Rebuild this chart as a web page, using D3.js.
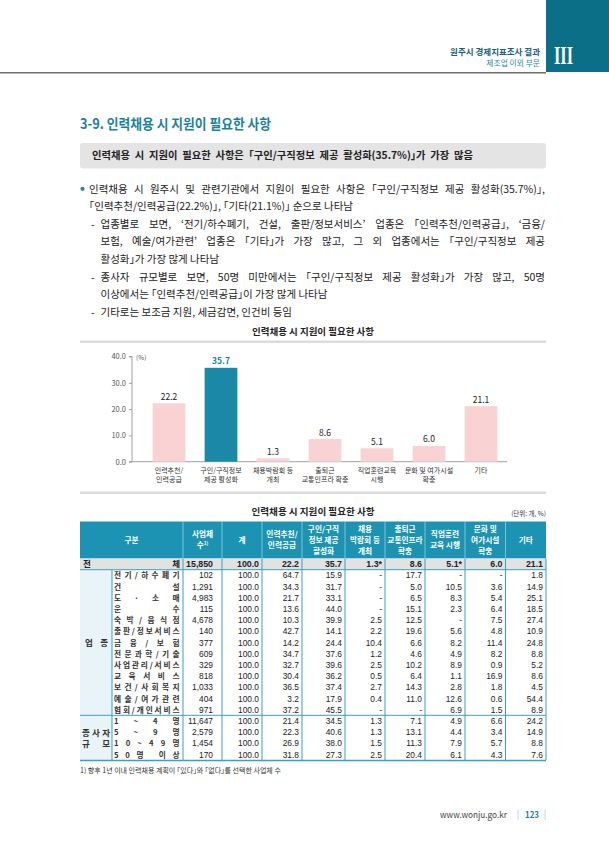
<!DOCTYPE html>
<html><head><meta charset="utf-8">
<script src="https://cdn.jsdelivr.net/npm/d3@7"></script>
<style>body{margin:0;background:#fff}svg{display:block}.halt{font-feature-settings:"halt" 1}</style>
</head><body>
<script>
// ---------- DATA ----------
const categories = ["인력추천/인력공급","구인/구직정보 제공 활성화","채용박람회 등 개최","출퇴근 교통인프라 확충","직업훈련교육 시행","문화 및 여가시설 확충","기타"];
const categoryLines = [["인력추천/","인력공급"],["구인/구직정보","제공 활성화"],["채용박람회 등","개최"],["출퇴근","교통인프라 확충"],["직업훈련교육","시행"],["문화 및 여가시설","확충"],["기타"]];
const values = [22.2, 35.7, 1.3, 8.6, 5.1, 6.0, 21.1];
const yTicks = [0, 10, 20, 30, 40];

const tableHeaders = [["구분"],["사업체","수"],["계"],["인력추천/","인력공급"],["구인/구직","정보 제공","활성화"],["채용","박람회 등","개최"],["출퇴근","교통인프라","확충"],["직업훈련","교육 시행"],["문화 및","여가시설","확충"],["기타"]];
const totalRow = ["15,850","100.0","22.2","35.7","1.3*","8.6","5.1*","6.0","21.1"];
const industryLabels = ["전기/하수폐기","건설","도·소매","운수","숙박/음식점","출판/정보서비스","금융/보험","전문과학/기술","사업관리/서비스","교육서비스","보건/사회복지","예술/여가관련","협회/개인서비스"];
const industryRows = [
 ["102","100.0","64.7","15.9","-","17.7","-","-","1.8"],
 ["1,291","100.0","34.3","31.7","-","5.0","10.5","3.6","14.9"],
 ["4,983","100.0","21.7","33.1","-","6.5","8.3","5.4","25.1"],
 ["115","100.0","13.6","44.0","-","15.1","2.3","6.4","18.5"],
 ["4,678","100.0","10.3","39.9","2.5","12.5","-","7.5","27.4"],
 ["140","100.0","42.7","14.1","2.2","19.6","5.6","4.8","10.9"],
 ["377","100.0","14.2","24.4","10.4","6.6","8.2","11.4","24.8"],
 ["609","100.0","34.7","37.6","1.2","4.6","4.9","8.2","8.8"],
 ["329","100.0","32.7","39.6","2.5","10.2","8.9","0.9","5.2"],
 ["818","100.0","30.4","36.2","0.5","6.4","1.1","16.9","8.6"],
 ["1,033","100.0","36.5","37.4","2.7","14.3","2.8","1.8","4.5"],
 ["404","100.0","3.2","17.9","0.4","11.0","12.6","0.6","54.4"],
 ["971","100.0","37.2","45.5","-","-","6.9","1.5","8.9"]
];
const sizeLabels = ["1~4명","5~9명","10~49명","50명 이상"];
const sizeRows = [
 ["11,647","100.0","21.4","34.5","1.3","7.1","4.9","6.6","24.2"],
 ["2,579","100.0","22.3","40.6","1.3","13.1","4.4","3.4","14.9"],
 ["1,454","100.0","26.9","38.0","1.5","11.3","7.9","5.7","8.8"],
 ["170","100.0","31.8","27.3","2.5","20.4","6.1","4.3","7.6"]
];

// ---------- HELPERS ----------
const F = "'Noto Sans CJK KR','Noto Sans',sans-serif";
const NUMF = "'Liberation Sans Narrow','Liberation Sans','Noto Sans',sans-serif";
const svg = d3.select("body").append("svg").attr("width",609).attr("height",861).style("font-family",F);

function justify(t, target){
  const w = t.node().getComputedTextLength();
  const n = (t.text().match(/ /g)||[]).length;
  if(n) t.attr("word-spacing",(target-w)/n);
}
function spreadSpacing(str, fs, weight, target){
  const tmp = svg.append("text").attr("font-size",fs).attr("font-weight",weight).text(str);
  const w = tmp.node().getComputedTextLength(); tmp.remove();
  const n = [...str].length;
  return n>1 ? (target-w)/(n-1) : 0;
}
function spreadLabel(parent, str, x0, yy, fs, weight, target){
  const ls = spreadSpacing(str, fs, weight, target);
  const chars = [...str];
  parent.append("tspan").attr("x",x0).attr("y",yy).attr("letter-spacing",ls).text(chars.slice(0,-1).join(""));
  parent.append("tspan").attr("letter-spacing",0).text(chars[chars.length-1]);
}

// ---------- PAGE HEADER ----------
svg.append("rect").attr("x",546).attr("y",0).attr("width",63).attr("height",72).attr("fill","#0b6f87");
svg.append("line").attr("x1",0).attr("x2",546).attr("y1",72.8).attr("y2",72.8).attr("stroke","#6e6e6e").attr("stroke-width",1.5);
svg.append("text").attr("text-anchor","end").attr("x",540).attr("y",55.3).attr("font-size",8.5).attr("font-weight","bold").attr("fill","#17627a").text("원주시 경제지표조사 결과");
svg.append("text").attr("text-anchor","end").attr("x",540).attr("y",65.6).attr("font-size",7.8).attr("fill","#2b8ba6").text("제조업 이외 부문");
svg.append("text").attr("x",554).attr("y",63.5).attr("font-size",25).attr("font-weight","bold")
  .attr("font-family","'Liberation Serif','DejaVu Serif',serif").attr("fill","#fff")
  .attr("textLength",19).attr("lengthAdjust","spacingAndGlyphs").text("III");

// section title
svg.append("text").attr("x",80).attr("y",128.5).attr("font-size",14).attr("font-weight","bold").attr("fill","#1883a0")
  .attr("textLength",191).attr("lengthAdjust","spacingAndGlyphs").text("3-9. 인력채용 시 지원이 필요한 사항");

// summary box
svg.append("rect").attr("x",80).attr("y",143).attr("width",466).attr("height",25.5).attr("rx",3).attr("fill","#e4e4e4");
const sm = svg.append("text").attr("class","halt").attr("x",92).attr("y",159.2).attr("font-size",10.3).attr("font-weight","bold").attr("fill","#222")
  .text("인력채용 시 지원이 필요한 사항은 「구인/구직정보 제공 활성화(35.7%)」가 가장 많음");
justify(sm,381);

// body text
const BF = 10.5;
svg.append("circle").attr("cx",82.5).attr("cy",188.8).attr("r",2.1).attr("fill","#1a8aa8");
const bodyLines = [
 {x:89, j:545, t:"인력채용 시 원주시 및 관련기관에서 지원이 필요한 사항은 「구인/구직정보 제공 활성화(35.7%)」,"},
 {x:89, t:"「인력추천/인력공급(22.2%)」, 「기타(21.1%)」 순으로 나타남"},
 {x:100.5, j:545, t:"업종별로 보면, ‘전기/하수폐기, 건설, 출판/정보서비스’ 업종은 「인력추천/인력공급」, ‘금융/", dash:true},
 {x:100.5, j:545, t:"보험, 예술/여가관련’ 업종은 「기타」가 가장 많고, 그 외 업종에서는 「구인/구직정보 제공"},
 {x:100.5, t:"활성화」가 가장 많게 나타남"},
 {x:100.5, j:545, t:"종사자 규모별로 보면, 50명 미만에서는 「구인/구직정보 제공 활성화」가 가장 많고, 50명", dash:true},
 {x:100.5, t:"이상에서는 「인력추천/인력공급」이 가장 많게 나타남"},
 {x:100.5, t:"기타로는 보조금 지원, 세금감면, 인건비 등임", dash:true}
];
bodyLines.forEach((d,i)=>{
  const y = 192.8 + i*17.55;
  if(d.dash) svg.append("text").attr("x",91).attr("y",y).attr("font-size",BF).attr("fill","#222").text("-");
  const t = svg.append("text").attr("class","halt").attr("x",d.x).attr("y",y).attr("font-size",BF).attr("fill","#222").text(d.t);
  if(d.j) justify(t,d.j-d.x);
});

// ---------- BAR CHART ----------
svg.append("text").attr("x",313).attr("y",335).attr("text-anchor","middle").attr("font-size",9).attr("font-weight","bold")
  .attr("fill","#222").attr("textLength",122).attr("lengthAdjust","spacingAndGlyphs").text("인력채용 시 지원이 필요한 사항");
[341.8,492.8].forEach(y=>svg.append("line").attr("x1",80).attr("x2",546).attr("y1",y).attr("y2",y)
  .attr("stroke","#dcdcdc").attr("stroke-width",2.5));

const x = d3.scaleBand().domain(categories).range([143,507]).paddingInner(0.37).paddingOuter(0.185);
const y = d3.scaleLinear().domain([0,40]).range([461.7,356.5]);
const chart = svg.append("g");
const yAxis = chart.append("g").attr("transform","translate(132,0)")
  .call(d3.axisLeft(y).tickValues(yTicks).tickFormat(d3.format(".1f")).tickSize(3).tickPadding(3));
yAxis.select(".domain").attr("stroke","#a0a0a0").attr("d","M-3,"+y(40)+"H0V"+y(0)+"H-3");
yAxis.selectAll(".tick line").attr("stroke","#a0a0a0");
yAxis.selectAll(".tick text").attr("font-size",7.5).attr("fill","#555").attr("font-family",F);
chart.append("text").attr("x",136).attr("y",359.5).attr("font-size",6.5).attr("fill","#555").text("(%)");
chart.append("line").attr("x1",132).attr("x2",507).attr("y1",y(0)).attr("y2",y(0)).attr("stroke","#a0a0a0");

chart.selectAll("rect.bar").data(categories).enter().append("rect").attr("class","bar")
  .attr("x",d=>x(d)).attr("width",x.bandwidth())
  .attr("y",(d,i)=>y(values[i])).attr("height",(d,i)=>y(0)-y(values[i]))
  .attr("fill",(d,i)=>i===1?"#1c88a8":"#f9d3d3");
chart.selectAll("text.val").data(categories).enter().append("text").attr("class","val")
  .attr("x",d=>x(d)+x.bandwidth()/2).attr("y",(d,i)=>y(values[i])-3.5)
  .attr("text-anchor","middle").attr("font-size",8.5)
  .attr("font-weight",(d,i)=>i===1?"bold":"normal")
  .attr("fill",(d,i)=>i===1?"#1a7fa0":"#222").text((d,i)=>values[i].toFixed(1));
categories.forEach((c,i)=>{
  const t = chart.append("text").attr("text-anchor","middle").attr("font-size",7).attr("fill","#333");
  categoryLines[i].forEach((ln,j)=>{
    t.append("tspan").attr("x",x(c)+x.bandwidth()/2).attr("y",472.5+j*9.5).text(ln);
  });
});

// ---------- TABLE ----------
svg.append("text").attr("x",313).attr("y",515).attr("text-anchor","middle").attr("font-size",9).attr("font-weight","bold")
  .attr("fill","#222").attr("textLength",123).attr("lengthAdjust","spacingAndGlyphs").text("인력채용 시 지원이 필요한 사항");
svg.append("text").attr("x",546).attr("y",515.5).attr("text-anchor","end").attr("font-size",6.5).attr("fill","#333").text("(단위: 개, %)");

const cols = [80,183,222,262,302,345,385,425,465,505.5,546];
const hTop = 521.5, hBot = 558.5, rowH = 11.2;
const totBot = hBot + rowH;
const indBot = totBot + industryRows.length*rowH;
const sizeBot = indBot + sizeRows.length*rowH;
const lineC = "#3b9fc0";

svg.append("rect").attr("x",80).attr("y",hTop).attr("width",466).attr("height",hBot-hTop).attr("fill","#1c93b2");
svg.append("rect").attr("x",80).attr("y",hBot).attr("width",466).attr("height",rowH).attr("fill","#e2e2e2");
svg.append("rect").attr("x",80).attr("y",totBot).attr("width",32).attr("height",sizeBot-totBot).attr("fill","#e9f4f8");

// header texts
const HF = 7.7, HL = 11.2;
tableHeaders.forEach((lines,i)=>{
  const cx = (cols[i]+cols[i+1])/2, cy = (hTop+hBot)/2;
  const t = svg.append("text").attr("text-anchor","middle").attr("font-size",HF).attr("font-weight","bold").attr("fill","#fff");
  lines.forEach((ln,j)=>{
    t.append("tspan").attr("x",cx).attr("y",cy+(j-(lines.length-1)/2)*HL+2.8).text(ln);
    if(i===1 && j===1){ t.append("tspan").attr("font-size",4.8).attr("dy",-3).text("1)"); }
  });
});
cols.slice(1,-1).forEach(c=>svg.append("line").attr("x1",c).attr("x2",c).attr("y1",hTop).attr("y2",hBot)
  .attr("stroke","#ffffff").attr("stroke-opacity",0.55).attr("stroke-width",0.8));

// numeric columns
const allRows = [totalRow].concat(industryRows, sizeRows);
for(let k=0;k<9;k++){
  const pad = k===0?9:3;
  const t = svg.append("text").attr("text-anchor","end").attr("font-family",NUMF).attr("fill","#222");
  allRows.forEach((r,ri)=>{
    t.append("tspan").attr("x",cols[k+2]-pad).attr("y",hBot+ri*rowH+rowH/2+3.1)
      .attr("font-size",ri===0?8.8:8.4).attr("font-weight",ri===0?"bold":"normal").text(r[k]);
  });
}
// total label
svg.append("text").attr("x",83).attr("y",hBot+rowH/2+3.2).attr("font-size",8.5).attr("font-weight","bold").attr("fill","#222").text("전");
svg.append("text").attr("x",180).attr("y",hBot+rowH/2+3.2).attr("text-anchor","end").attr("font-size",8.5).attr("font-weight","bold").attr("fill","#222").text("체");

// sub labels
const SF = 7.7;
const subT = svg.append("text").attr("font-size",SF).attr("font-weight","bold").attr("fill","#333");
industryLabels.concat(sizeLabels).forEach((lab,i)=>{
  spreadLabel(subT, lab, 114, totBot+i*rowH+rowH/2+3, SF, "bold", 65.5);
});
// group labels
const g1 = svg.append("text").attr("font-size",8.5).attr("font-weight","bold").attr("fill","#333");
spreadLabel(g1,"업종",85,(totBot+indBot)/2+3.2,8.5,"bold",23);
const g2 = svg.append("text").attr("font-size",8.5).attr("font-weight","bold").attr("fill","#333");
spreadLabel(g2,"종사자",82,(indBot+sizeBot)/2-1.8,8.5,"bold",28);
const g3 = svg.append("text").attr("font-size",8.5).attr("font-weight","bold").attr("fill","#333");
spreadLabel(g3,"규모",82,(indBot+sizeBot)/2+9.5,8.5,"bold",28);

// table lines
cols.slice(1).forEach(c=>svg.append("line").attr("x1",c).attr("x2",c).attr("y1",hBot).attr("y2",sizeBot)
  .attr("stroke",lineC).attr("stroke-width",1));
svg.append("line").attr("x1",112).attr("x2",112).attr("y1",totBot).attr("y2",sizeBot).attr("stroke",lineC);
[totBot,indBot].forEach(yy=>svg.append("line").attr("x1",80).attr("x2",546).attr("y1",yy).attr("y2",yy).attr("stroke",lineC));
svg.append("line").attr("x1",80).attr("x2",546).attr("y1",sizeBot+0.4).attr("y2",sizeBot+0.4).attr("stroke",lineC).attr("stroke-width",1.3);

svg.append("text").attr("class","halt").attr("x",80).attr("y",772.5).attr("font-size",7).attr("fill","#333")
  .text("1) 향후 1년 이내 인력채용 계획이 「있다」와 「없다」를 선택한 사업체 수");

// footer
svg.append("text").attr("x",440).attr("y",817.5).attr("font-size",9).attr("fill","#444")
  .attr("textLength",67).attr("lengthAdjust","spacingAndGlyphs").text("www.wonju.go.kr");
svg.append("text").attr("x",518).attr("y",817.5).attr("font-size",9).attr("fill","#8cc4d6").attr("text-anchor","middle").text("|");
svg.append("text").attr("x",525).attr("y",817.5).attr("font-size",9).attr("font-weight","bold").attr("fill","#1a7fa0")
  .attr("textLength",14).attr("lengthAdjust","spacingAndGlyphs").text("123");
svg.append("text").attr("x",545).attr("y",817.5).attr("font-size",9).attr("fill","#8cc4d6").attr("text-anchor","middle").text("|");
</script>
</body></html>
